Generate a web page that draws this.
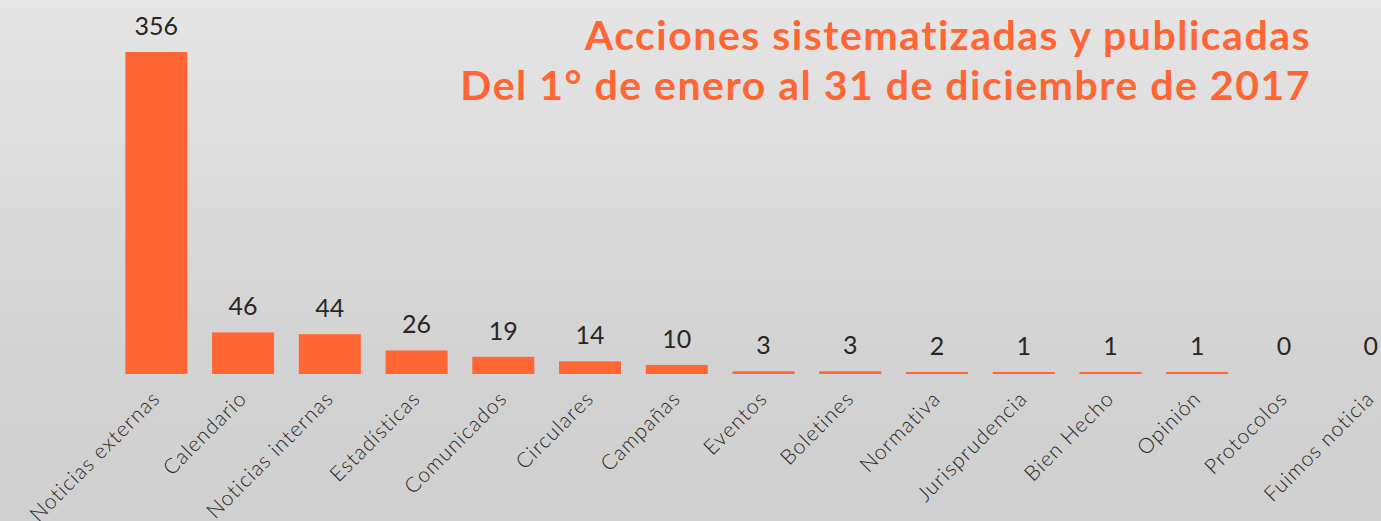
<!DOCTYPE html>
<html>
<head>
<meta charset="utf-8">
<script src="https://cdn.jsdelivr.net/npm/d3@7"></script>
<style>
  html, body { margin: 0; padding: 0; overflow: hidden; }
  body { width: 1381px; height: 521px; }
</style>
</head>
<body>
<div id="chart-container"></div>
<script>
const categories = [
    "Noticias externas", "Calendario", "Noticias internas", "Estadísticas",
    "Comunicados", "Circulares", "Campañas", "Eventos", "Boletines",
    "Normativa", "Jurisprudencia", "Bien Hecho", "Opinión", "Protocolos",
    "Fuimos noticia"
];
const values = [356, 46, 44, 26, 19, 14, 10, 3, 3, 2, 1, 1, 1, 0, 0];
const titleLines = [
    "Acciones sistematizadas y publicadas",
    "Del 1° de enero al 31 de diciembre de 2017"
];

const width = 1381;
const height = 521;
const orange = "#ff6633";
const baseY = 374;

const svg = d3
    .select("#chart-container")
    .append("svg")
    .attr("width", width)
    .attr("height", height);

// background gradient
const grad = svg.append("defs")
    .append("linearGradient")
    .attr("id", "bg")
    .attr("x1", 0).attr("y1", 0)
    .attr("x2", 0).attr("y2", 1);
grad.append("stop").attr("offset", "0%").attr("stop-color", "#e5e5e5");
grad.append("stop").attr("offset", "70%").attr("stop-color", "#d2d2d2");
grad.append("stop").attr("offset", "100%").attr("stop-color", "#d0d0d0");

svg.append("rect")
    .attr("width", width)
    .attr("height", height)
    .attr("fill", "url(#bg)");

const x = d3
    .scaleBand()
    .domain(categories)
    .range([113, 1414])
    .paddingInner(0.285)
    .paddingOuter(0.1425);

const y = d3
    .scaleLinear()
    .domain([0, 356])
    .range([baseY, 52]);

const data = categories.map((c, i) => ({ name: c, value: values[i] }));

// bars (tiny values still get a thin visible line like the original)
svg.selectAll(".bar")
    .data(data.filter((d) => d.value > 0))
    .enter()
    .append("rect")
    .attr("class", "bar")
    .attr("x", (d) => x(d.name))
    .attr("width", x.bandwidth())
    .attr("y", (d) => Math.min(y(d.value), baseY - 2))
    .attr("height", (d) => Math.max(baseY - y(d.value), 2))
    .attr("fill", orange);

// value labels
svg.selectAll(".val")
    .data(data)
    .enter()
    .append("text")
    .attr("class", "val")
    .attr("x", (d) => x(d.name) + x.bandwidth() / 2)
    .attr("y", (d) => Math.min(y(d.value), baseY - 2) - 17)
    .attr("text-anchor", "middle")
    .style("font-family", "Lato, 'Noto Sans', sans-serif")
    .style("font-size", "25px")
    .style("fill", "#2b2523")
    .text((d) => d.value);

// category labels, rotated
svg.selectAll(".cat")
    .data(categories)
    .enter()
    .append("text")
    .attr("class", "cat")
    .attr("transform", (d) => `translate(${x(d) + x.bandwidth() / 2 + 5}, 400) rotate(-45)`)
    .attr("text-anchor", "end")
    .style("font-family", "Lato, 'Noto Sans', sans-serif")
    .style("font-weight", 300)
    .style("font-size", "21px")
    .style("letter-spacing", "1.1px")
    .style("fill", "#2b2523")
    .text((d) => d);

// title
svg.selectAll(".title")
    .data(titleLines)
    .enter()
    .append("text")
    .attr("class", "title")
    .attr("x", 1311)
    .attr("y", (d, i) => 50 + i * 50)
    .attr("text-anchor", "end")
    .style("font-family", "Lato, 'Noto Sans', sans-serif")
    .style("font-weight", 700)
    .style("font-size", "41px")
    .style("letter-spacing", "1.5px")
    .style("fill", orange)
    .text((d) => d);
</script>
</body>
</html>
